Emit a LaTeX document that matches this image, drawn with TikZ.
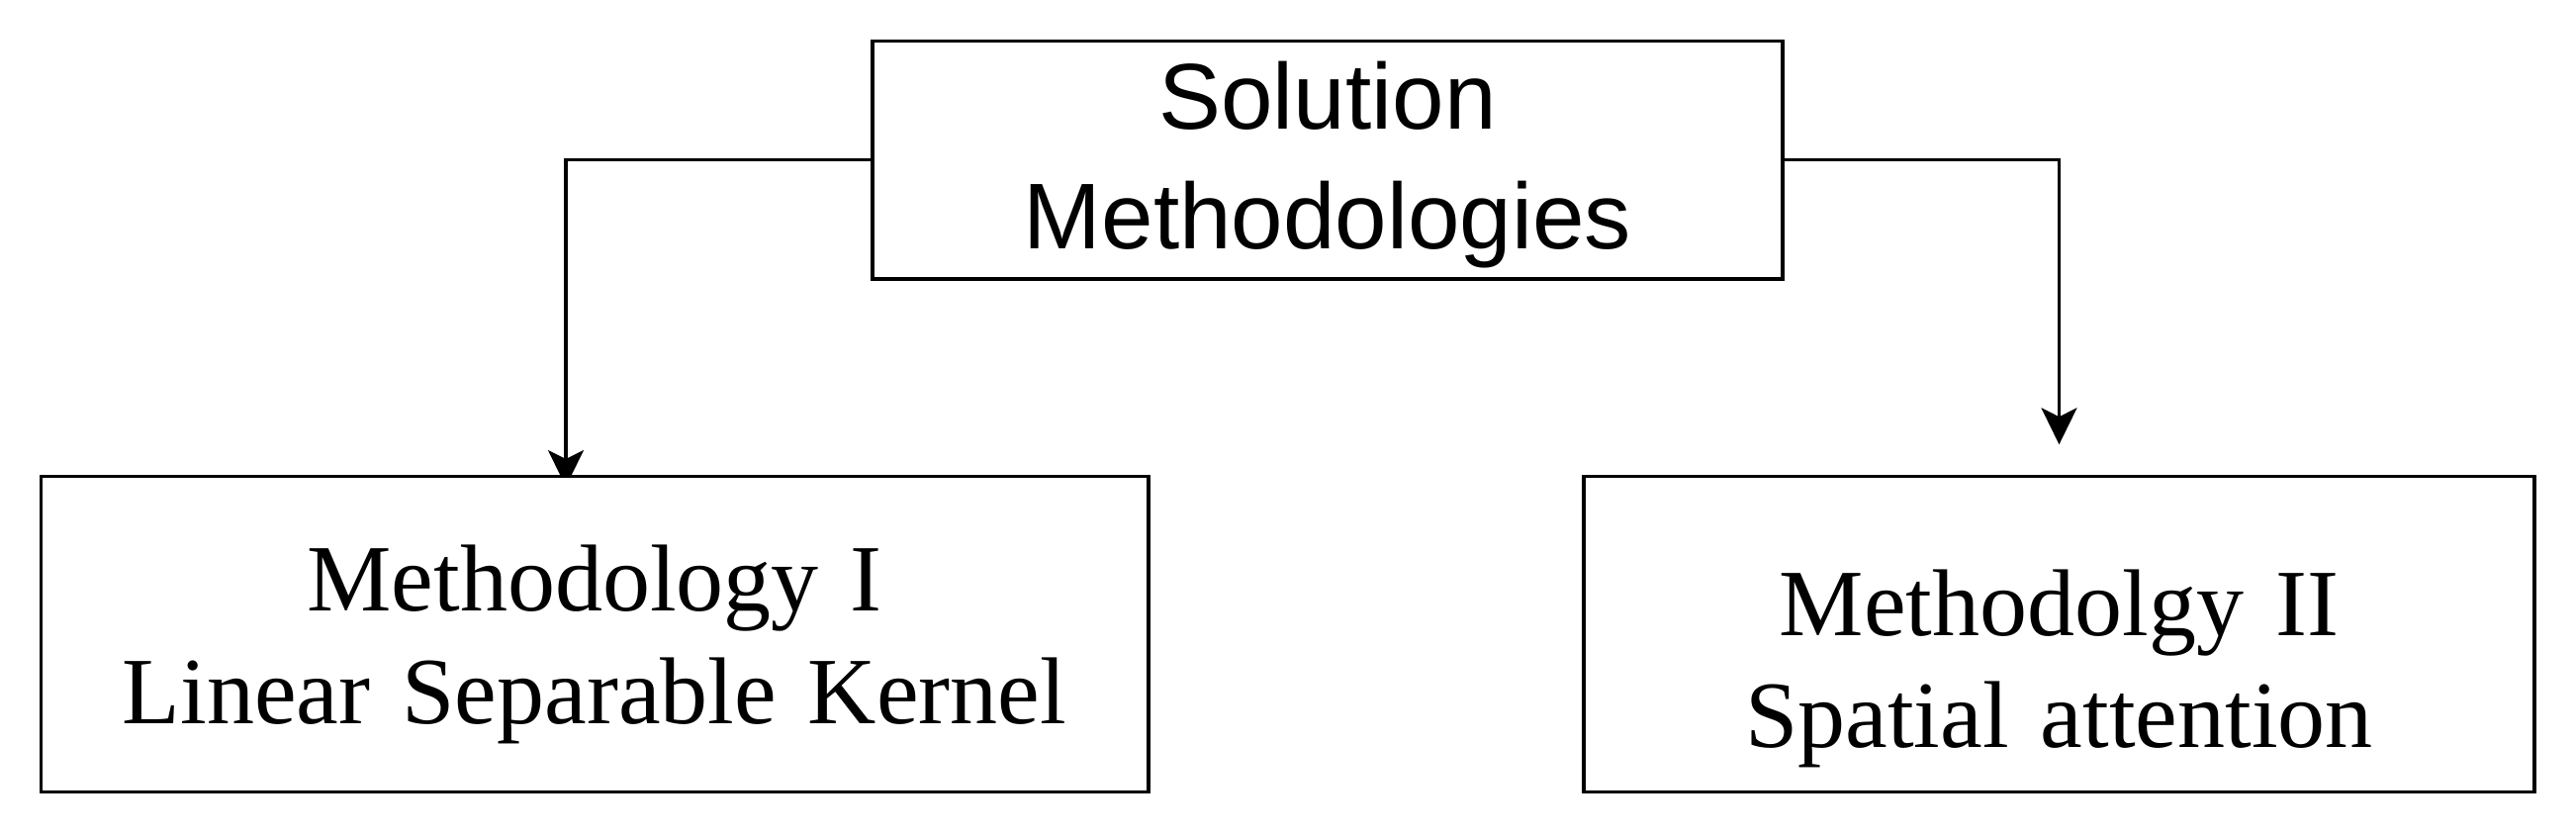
\documentclass[tikz,border=0pt]{standalone}
\usepackage{fontspec}
\setmainfont{Liberation Serif}
\setsansfont{Liberation Sans}
\usetikzlibrary{arrows.meta,backgrounds}
\begin{document}
\begin{tikzpicture}[x=0.5pt,y=-0.5pt,
  box/.style={draw=black,line width=1.65pt,fill=white,rectangle,inner sep=0pt},
  conn/.style={draw=black,line width=1.65pt,-{Stealth[length=18.5pt,width=18pt,inset=4.5pt]}},
  toptext/.style={anchor=base,inner sep=0pt,text width=450pt,align=center,
    font=\sffamily\fontsize{47.2pt}{60.5pt}\selectfont},
  bottext/.style={anchor=base,inner sep=0pt,text width=540pt,align=center,
    font=\rmfamily\fontsize{48pt}{57pt}\selectfont}]
\useasboundingbox (0,0) rectangle (2604,844);
% boxes
\node[box,minimum width=460pt,minimum height=120.25pt] (top) at (1342,161.75) {};
\node[box,minimum width=559.75pt,minimum height=159.45pt] (left) at (601.25,641) {};
\node[box,minimum width=480.5pt,minimum height=159.45pt] (right) at (2081.5,641) {};
% texts
\node[toptext] (ttop) at (1342,130.7) {Solution\\Methodologies};
\node[bottext] (tleft) at (601,617.8) {Methodology I\\Linear Separable Kernel};
\node[bottext] (tright) at (2081.5,642) {Methodolgy II\\Spatial attention};
% connectors
\coordinate (la) at (572,492);
\coordinate (ra) at (2081.5,449.3);
\begin{scope}[on background layer]
\draw[conn] (top.west) -| (la);
\draw[conn] (top.east) -| (ra);
\end{scope}
\end{tikzpicture}
\end{document}
